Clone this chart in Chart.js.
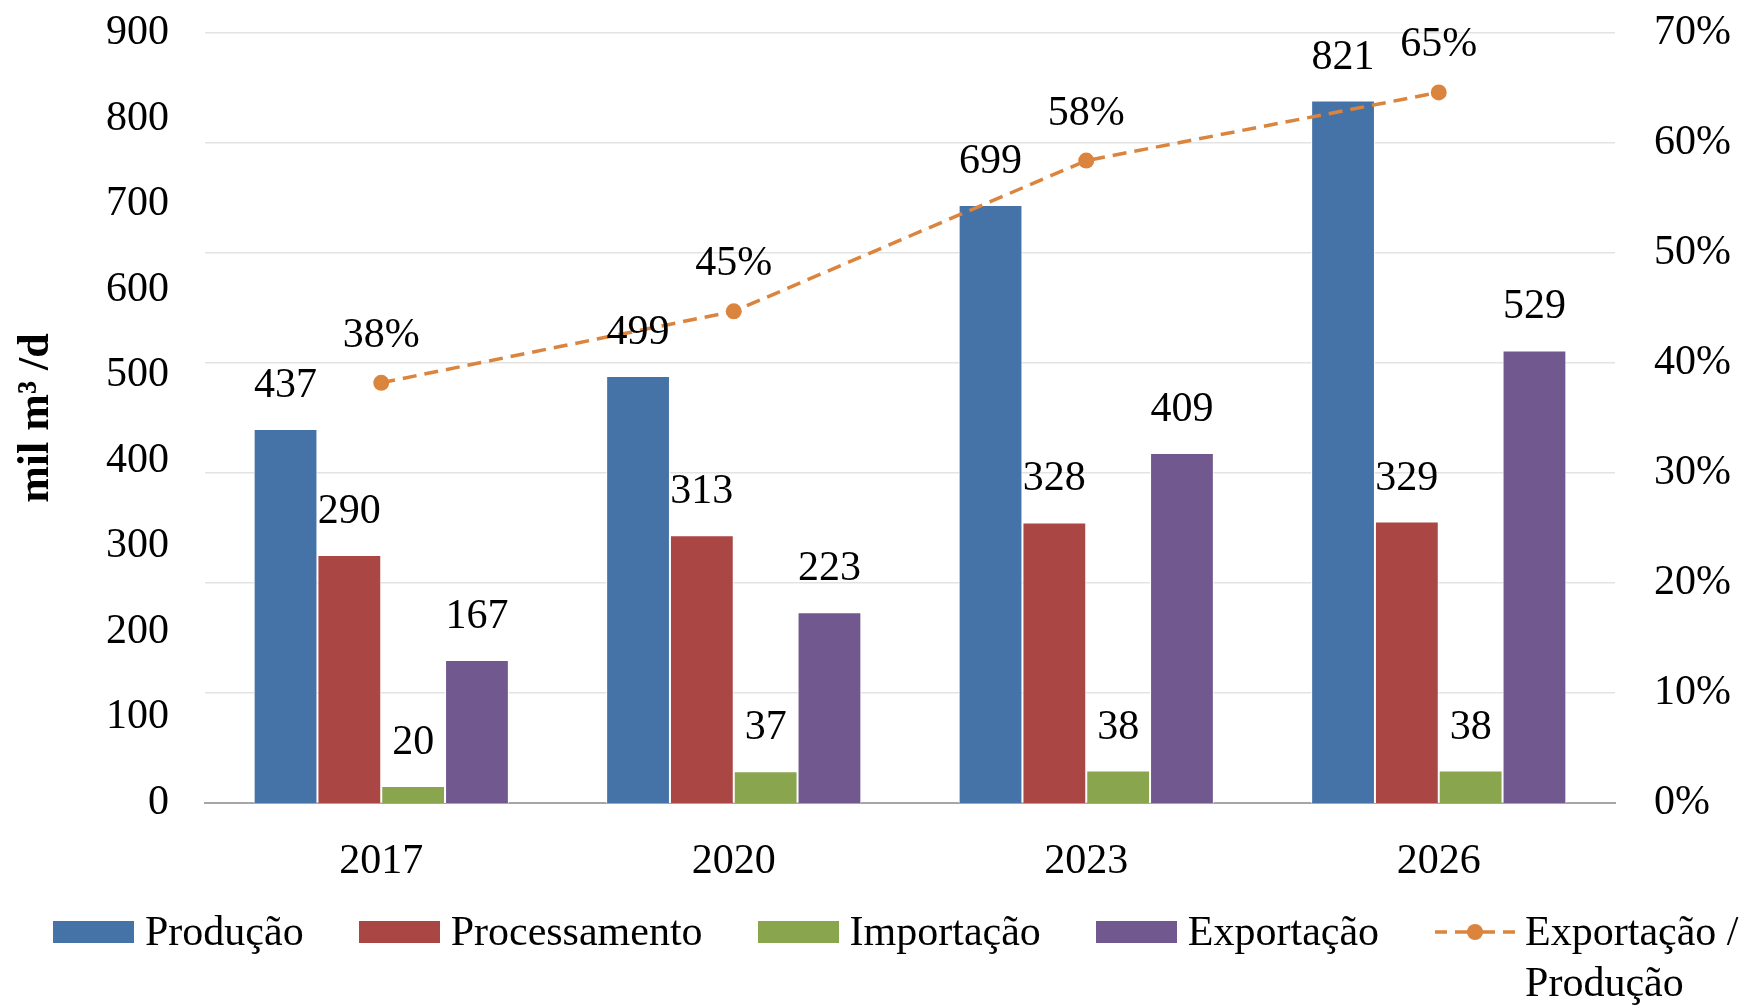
<!DOCTYPE html>
<html>
<head>
<meta charset="utf-8">
<script src="https://cdn.jsdelivr.net/npm/chart.js@4"></script>
<style>
  html, body { margin: 0; padding: 0; background: #fff; }
  #wrap { position: relative; width: 1744px; height: 1007px; }
  #legend { position: absolute; left: 53px; top: 906px; display: flex; align-items: flex-start;
            font-family: "Liberation Serif", serif; font-size: 42px; color: #000; line-height: 51px; }
  .item { display: flex; align-items: flex-start; margin-right: 55px; }
  .box { width: 81px; height: 22px; margin-top: 15px; margin-right: 11px; flex: none; }
  .mk { width: 81px; height: 22px; margin-top: 15px; margin-right: 10px; flex: none; }
</style>
</head>
<body>
<div id="wrap">
  <canvas id="c" width="1744" height="1007"></canvas>
  <div id="legend"></div>
</div>
<script>
// ---- data ----
const categories = ["2017", "2020", "2023", "2026"];
const producao = [437, 499, 699, 821];
const processamento = [290, 313, 328, 329];
const importacao = [20, 37, 38, 38];
const exportacao = [167, 223, 409, 529];
const exportacaoSobreProducao = [0.382, 0.447, 0.584, 0.646];
const seriesNames = ["Produção", "Processamento", "Importação", "Exportação", "Exportação /\nProdução"];
const leftTicks = { min: 0, max: 900, step: 100 };
const rightTicks = { min: 0, max: 0.7, step: 0.1 };

// ---- styles ----
const colors = ["#4572A7", "#AA4643", "#89A54E", "#71588F", "#DB843D"];
const FONT = "Liberation Serif";

const barSeries = [producao, processamento, importacao, exportacao];
const datasets = barSeries.map((d, i) => ({
  type: 'bar', label: seriesNames[i], data: d, backgroundColor: colors[i],
  borderColor: '#ffffff', borderWidth: 1, yAxisID: 'y', order: 2,
  barPercentage: 1.0, categoryPercentage: 0.724
}));
datasets.push({
  type: 'line', label: seriesNames[4], data: exportacaoSobreProducao, yAxisID: 'y1', order: 0,
  borderColor: colors[4], backgroundColor: colors[4], borderWidth: 3.5, borderDash: [14, 8],
  pointRadius: 8, pointHoverRadius: 8, pointBackgroundColor: colors[4], pointBorderWidth: 0, tension: 0
});

const labelPlugin = {
  id: 'valueLabels',
  afterDatasetsDraw(chart) {
    const ctx = chart.ctx;
    ctx.save();
    ctx.font = `42px "${FONT}"`;
    ctx.fillStyle = '#000';
    ctx.textAlign = 'center';
    ctx.textBaseline = 'middle';
    chart.data.datasets.forEach((ds, i) => {
      const meta = chart.getDatasetMeta(i);
      meta.data.forEach((el, j) => {
        const v = ds.data[j];
        if (ds.type === 'line') {
          ctx.fillText(Math.round(v * 100) + '%', el.x, el.y - 47);
        } else {
          ctx.fillText(String(v), el.x, el.y - 43);
        }
      });
    });
    ctx.restore();
  }
};

new Chart(document.getElementById('c'), {
  data: { labels: categories, datasets },
  options: {
    responsive: false,
    animation: false,
    events: [],
    layout: { padding: { top: 33, bottom: 119, left: 0, right: 0 } },
    plugins: { legend: { display: false }, tooltip: { enabled: false } },
    scales: {
      x: {
        offset: true,
        grid: { display: false, drawTicks: false },
        border: { display: true, color: '#a6a6a6', width: 2 },
        ticks: { font: { family: FONT, size: 42 }, color: '#000', padding: 34, maxRotation: 0 },
        afterFit: s => { s.height = 85; s.paddingLeft = 0; s.paddingRight = 0; }
      },
      y: {
        position: 'left', min: leftTicks.min, max: leftTicks.max,
        grid: { display: false, drawTicks: false },
        border: { display: false },
        ticks: { stepSize: leftTicks.step, font: { family: FONT, size: 42 }, color: '#000', padding: 36 },
        title: { display: true, text: 'mil m³ /d', color: '#000',
                 font: { family: FONT, size: 44, weight: 'bold' }, padding: { top: 10, bottom: 0 } },
        afterFit: s => { s.width = 205; s.paddingTop = 0; s.paddingBottom = 0; }
      },
      y1: {
        position: 'right', min: rightTicks.min, max: rightTicks.max,
        grid: { display: true, drawTicks: false, color: '#e3e3e3', lineWidth: 1.5 },
        border: { display: false },
        ticks: { stepSize: rightTicks.step, font: { family: FONT, size: 42 }, color: '#000', padding: 39,
                 callback: v => Math.round(v * 100) + '%' },
        afterFit: s => { s.width = 129; s.paddingTop = 0; s.paddingBottom = 0; }
      }
    }
  },
  plugins: [labelPlugin]
});

// ---- HTML legend ----
const legend = document.getElementById('legend');
seriesNames.forEach((name, i) => {
  const item = document.createElement('div');
  item.className = 'item';
  let mark;
  if (i < 4) {
    mark = document.createElement('div');
    mark.className = 'box';
    mark.style.background = colors[i];
  } else {
    mark = document.createElementNS('http://www.w3.org/2000/svg', 'svg');
    mark.setAttribute('class', 'mk');
    mark.setAttribute('width', '81'); mark.setAttribute('height', '22');
    mark.innerHTML =
      `<path d="M1 11h12M21 11h13M48 11h13M69 11h12" stroke="${colors[4]}" stroke-width="3.5" fill="none"/>` +
      `<circle cx="41" cy="11" r="8" fill="${colors[4]}"/>`;
  }
  const txt = document.createElement('div');
  txt.style.whiteSpace = 'pre';
  txt.textContent = name;
  item.appendChild(mark);
  item.appendChild(txt);
  legend.appendChild(item);
});
</script>
</body>
</html>
